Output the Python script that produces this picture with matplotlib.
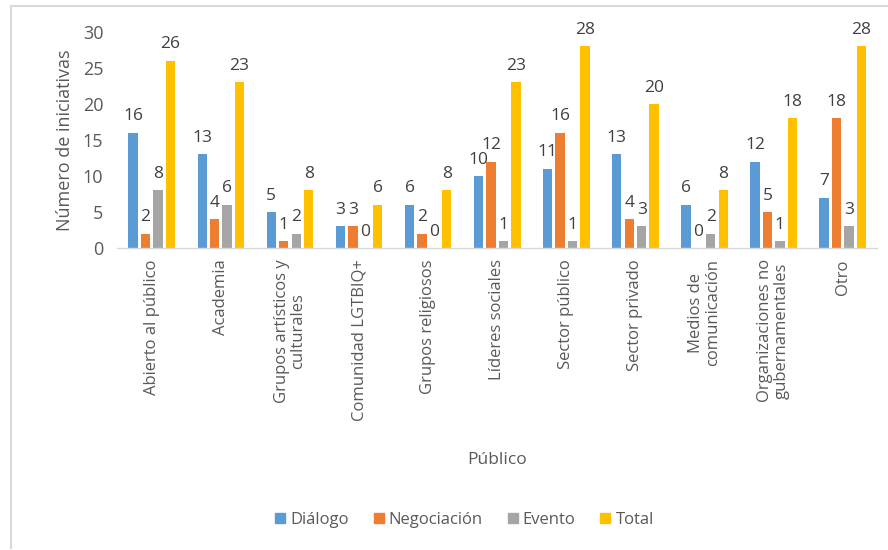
import matplotlib
matplotlib.use("Agg")
import matplotlib.pyplot as plt
from matplotlib.lines import Line2D
import numpy as np

plt.rcParams['font.family'] = ['Open Sans', 'DejaVu Sans']

categories = [
    "Abierto al público",
    "Academia",
    "Grupos artísticos y\nculturales",
    "Comunidad LGTBIQ+",
    "Grupos religiosos",
    "Líderes sociales",
    "Sector público",
    "Sector privado",
    "Medios de\ncomunicación",
    "Organizaciones no\ngubernamentales",
    "Otro",
]
dialogo = [16, 13, 5, 3, 6, 10, 11, 13, 6, 12, 7]
negociacion = [2, 4, 1, 3, 2, 12, 16, 4, 0, 5, 18]
evento = [8, 6, 2, 0, 0, 1, 1, 3, 2, 1, 3]
total = [26, 23, 8, 6, 8, 23, 28, 20, 8, 18, 28]

series = [
    ("Diálogo", dialogo, "#5B9BD5"),
    ("Negociación", negociacion, "#ED7D31"),
    ("Evento", evento, "#A5A5A5"),
    ("Total", total, "#FFC000"),
]

text_color = "#595959"
fig = plt.figure(figsize=(8.88, 5.5), dpi=100)
ax = fig.add_axes([0.132, 0.549, 0.856, 0.393])

x = np.arange(len(categories))
slot = 0.18
width = 0.135
for i, (name, vals, color) in enumerate(series):
    offs = (i - 1.5) * slot
    bars = ax.bar(x + offs, vals, width, color=color, label=name, zorder=2)
    ax.bar_label(bars, labels=[str(v) for v in vals], padding=6,
                 fontsize=12.5, color="#404040")

ax.set_xlim(-0.5, len(categories) - 0.5)
ax.set_ylim(0, 30)
ax.set_yticks(range(0, 31, 5))
ax.set_xticks(x)
ax.set_xticklabels(categories, rotation=90, ha="center", va="top",
                   multialignment="center", linespacing=1.05)
ax.tick_params(axis="both", length=0, colors=text_color)
ax.tick_params(axis="x", pad=8, labelsize=12)
ax.tick_params(axis="y", labelsize=13, pad=10)
for side in ["top", "right", "left"]:
    ax.spines[side].set_visible(False)
ax.spines["bottom"].set_color("#D9D9D9")
ax.spines["bottom"].set_linewidth(1.0)

ax.set_ylabel("Número de iniciativas", fontsize=13, color=text_color, labelpad=6)
fig.text(0.56, 0.163, "Público", ha="center", va="center",
         fontsize=12.5, color=text_color)

handles = [plt.Rectangle((0, 0), 1, 1, color=c) for _, _, c in series]
fig.legend(handles, [n for n, _, _ in series], loc="center",
           bbox_to_anchor=(0.523, 0.055), ncol=4, frameon=False,
           fontsize=12, labelcolor=text_color, handlelength=0.6,
           handleheight=0.6, handletextpad=0.3, columnspacing=1.5)

# light frame around the chart area
frame_kw = dict(color="#D9D9D9", linewidth=1.5, transform=fig.transFigure)
fig.add_artist(Line2D([11 / 888, 1], [1 - 6 / 550, 1 - 6 / 550], **frame_kw))
fig.add_artist(Line2D([11 / 888, 11 / 888], [1 - 6 / 550, 1 - 548 / 550], **frame_kw))

fig.savefig("out.png", dpi=100)
